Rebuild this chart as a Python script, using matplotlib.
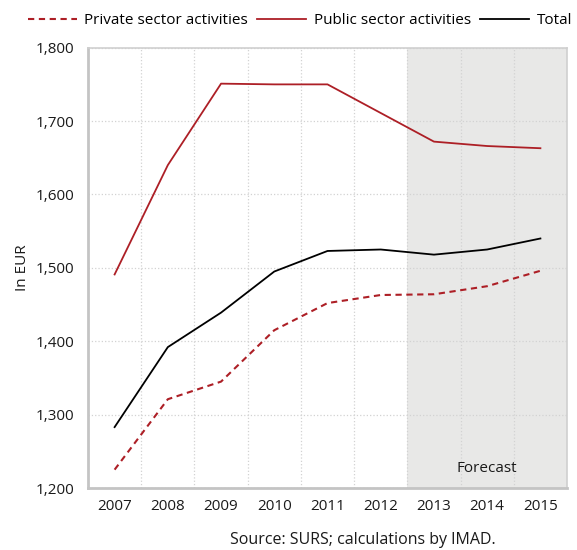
import matplotlib.pyplot as plt
import numpy as np
from matplotlib.ticker import FuncFormatter, FixedLocator

plt.rcParams['font.family'] = ['Open Sans', 'DejaVu Sans']

years = ['2007', '2008', '2009', '2010', '2011', '2012', '2013', '2014', '2015']
private = [1225, 1321, 1345, 1415, 1452, 1463, 1464, 1475, 1496]
public = [1491, 1640, 1751, 1750, 1750, 1711, 1672, 1666, 1663]
total = [1283, 1392, 1439, 1495, 1523, 1525, 1518, 1525, 1540]
forecast_start = '2013'

red = '#ad1f26'
grey = '#c4c4c4'
txt = '#1a1a1a'

x = np.arange(len(years))

fig = plt.figure(figsize=(5.77, 5.5), dpi=100)
ax = fig.add_axes([0.1525, 0.1127, 0.8302, 0.8006])

# forecast period shading
fi = years.index(forecast_start)
ax.axvspan(fi - 0.5, len(years) - 0.5, color='#e8e8e7', zorder=0, lw=0)

ax.plot(x, private, color=red, lw=1.5, ls=(0, (3, 2.2)), label='Private sector activities')
ax.plot(x, public, color=red, lw=1.3, label='Public sector activities')
ax.plot(x, total, color='black', lw=1.3, label='Total')

ax.set_xlim(-0.5, len(years) - 0.5)
ax.set_ylim(1200, 1800)
ax.set_xticks(x)
ax.set_xticklabels(years)
ax.xaxis.set_minor_locator(FixedLocator(x[:-1] + 0.5))
ax.set_yticks(np.arange(1200, 1801, 100))
ax.yaxis.set_major_formatter(FuncFormatter(lambda v, p: f'{int(v):,}'))

ax.grid(axis='y', which='major', color='#d2d2d2', ls=':', lw=0.9)
ax.grid(axis='x', which='minor', color='#d2d2d2', ls=':', lw=0.9)
ax.set_axisbelow(True)
ax.tick_params(which='both', length=0, labelsize=11, colors=txt)
ax.tick_params(axis='x', pad=8)
ax.tick_params(axis='y', pad=10)

for side in ['top', 'right']:
    ax.spines[side].set_color('#cfcfcf')
    ax.spines[side].set_linewidth(1.2)
for side in ['left', 'bottom']:
    ax.spines[side].set_color(grey)
    ax.spines[side].set_linewidth(2)

ax.set_ylabel('In EUR', fontsize=11, color=txt)
ax.yaxis.set_label_coords(-0.121, 0.5)

ax.text(7, 1226, 'Forecast', ha='center', va='center', fontsize=11, color=txt)

fig.legend(loc='center', bbox_to_anchor=(0.52, 0.963), ncol=3, frameon=False,
           fontsize=11, handlelength=3.2, columnspacing=0.6, handletextpad=0.5)

fig.text(0.628, 0.018, 'Source: SURS; calculations by IMAD.', ha='center', va='center',
         fontsize=11.5, color=txt)

fig.savefig('out.png', dpi=100)
